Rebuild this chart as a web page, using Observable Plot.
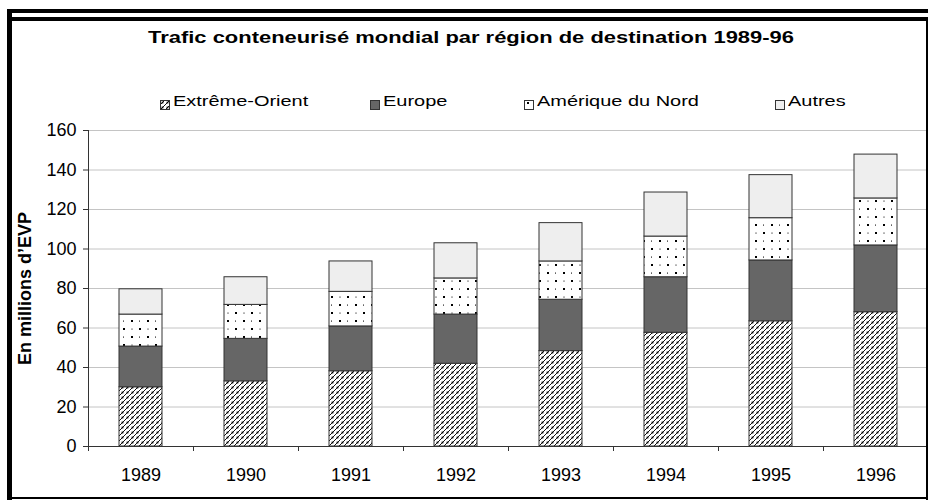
<!DOCTYPE html>
<html><head><meta charset="utf-8">
<script src="https://cdn.jsdelivr.net/npm/d3@7"></script>
<script src="https://cdn.jsdelivr.net/npm/@observablehq/plot@0.6"></script>
<style>
body{margin:0;background:#fff;}
#wrap{position:relative;width:928px;height:500px;overflow:hidden;background:#fff;font-family:"Liberation Sans",Arial,sans-serif;color:#000;}
.ln{position:absolute;background:#000;z-index:5;}
#title{position:absolute;top:29px;left:471px;white-space:nowrap;font-weight:bold;font-size:17px;line-height:17px;transform:translateX(-50%) scaleX(1.29);}
.sw{position:absolute;top:96px;width:10px;height:10px;}
.lt{position:absolute;top:93px;white-space:nowrap;font-size:15px;line-height:15px;transform-origin:0 0;transform:scaleX(1.33);}
#plot{position:absolute;left:0;top:110px;}
</style></head>
<body>
<svg width="0" height="0" style="position:absolute">
<defs>
<pattern id="hatch" width="5" height="5" patternUnits="userSpaceOnUse">
 <rect width="5" height="5" fill="#fff"/>
 <path d="M-1,1 L1,-1 M0,5 L5,0 M4,6 L6,4" stroke="#111" stroke-width="1"/>
 <rect x="1.6" y="1.6" width="1.8" height="1.8" fill="#000"/>
</pattern>
<pattern id="dots" width="16" height="16" patternUnits="userSpaceOnUse">
 <rect width="16" height="16" fill="#fff"/>
 <rect x="3" y="2" width="2" height="2" fill="#000"/>
 <rect x="11" y="2.5" width="1" height="1.2" fill="#222"/>
 <rect x="11" y="10" width="2" height="2" fill="#000"/>
 <rect x="3.5" y="10.5" width="1" height="1.2" fill="#222"/>
</pattern>
</defs></svg>
<div id="wrap">
 <div class="ln" style="left:7px;top:9px;width:921px;height:4px"></div>
 <div class="ln" style="left:12px;top:17px;width:916px;height:4px"></div>
 <div class="ln" style="left:7px;top:9px;width:5px;height:491px"></div>
 <div class="ln" style="left:926px;top:17px;width:2px;height:483px"></div>
 <div class="ln" style="left:7px;top:497px;width:921px;height:2px"></div>
 <div id="title"></div>
 <div id="legend"></div>
 <div id="plot"></div>
</div>
<script>
const titleText = "Trafic conteneurisé mondial par région de destination 1989-96";
const yLabel = "En millions d’EVP";
const years = ["1989", "1990", "1991", "1992", "1993", "1994", "1995", "1996"];
const regions = ["Extrême-Orient", "Europe", "Amérique du Nord", "Autres"];
const extremeOrient = [30.0, 33.0, 38.1, 41.9, 48.3, 57.6, 63.4, 68.0];
const europe = [20.6, 21.5, 22.7, 24.9, 26.0, 28.1, 30.8, 33.8];
const ameriqueNord = [16.2, 17.2, 17.5, 18.3, 19.4, 20.6, 21.4, 23.8];
const autres = [12.8, 14.0, 15.4, 17.8, 19.4, 22.3, 21.8, 22.2];
const yTicks = [0, 20, 40, 60, 80, 100, 120, 140, 160];
const fills = ["url(#hatch)", "#666666", "url(#dots)", "#eeeeee"];
const legendX = [160, 370, 524, 775];

const series = [extremeOrient, europe, ameriqueNord, autres];
const table = years.flatMap((year, i) => regions.map((region, j) => ({year, region, value: series[j][i]})));

document.getElementById("title").textContent = titleText;
const lg = document.getElementById("legend");
regions.forEach((r, i) => {
  const sw = document.createElement("div");
  sw.className = "sw";
  sw.style.left = legendX[i] + "px";
  sw.innerHTML = `<svg width="10" height="10"><rect x="0.5" y="0.5" width="9" height="9" fill="${fills[i]}" stroke="#333"/></svg>`;
  lg.appendChild(sw);
  const t = document.createElement("div");
  t.className = "lt";
  t.style.left = (legendX[i] + 13) + "px";
  t.textContent = r;
  lg.appendChild(t);
});

const chart = Plot.plot({
  width: 928, height: 390,
  marginLeft: 88, marginRight: 0, marginTop: 20, marginBottom: 54,
  style: {fontFamily: '"Liberation Sans", Arial, sans-serif', fontSize: "18px", color: "#000", background: "transparent", overflow: "visible"},
  x: {domain: years, paddingInner: 0.59, paddingOuter: 0.295, label: null},
  y: {domain: [0, 160], label: null},
  color: {domain: regions, range: fills},
  marks: [
    Plot.gridY(yTicks, {stroke: "#c4c4c4", strokeOpacity: 1}),
    Plot.barY(table, {x: "year", y: "value", fill: "region", stroke: "#333", strokeWidth: 1}),
    Plot.ruleY([0], {stroke: "#333"}),
    Plot.axisY(yTicks, {tickSize: 5, tickPadding: 7, label: null, stroke: "#333"}),
    Plot.axisX({tickSize: 0, tickPadding: 22, label: null}),
    Plot.text([yLabel], {frameAnchor: "left", textAnchor: "middle", dx: -63, rotate: -90, fontWeight: "bold", fontSize: 18, fill: "#000"})
  ]
});
document.getElementById("plot").appendChild(chart);

// y axis line and category-boundary ticks from the plot's scales
const xs = chart.scale("x"), ys = chart.scale("y");
const step = xs.step ?? (xs.range[1] - xs.range[0]) / years.length;
const bw = xs.bandwidth;
const y0 = ys.apply(0), yTop = ys.apply(160);
const g = d3.select(chart).append("g").attr("stroke", "#333").attr("stroke-width", 1);
g.append("line").attr("x1", xs.range[0] + 0.5).attr("x2", xs.range[0] + 0.5).attr("y1", yTop).attr("y2", y0);
const bounds = years.map(y => xs.apply(y) - (step - bw) / 2);
bounds.push(xs.apply(years[years.length - 1]) + bw + (step - bw) / 2);
bounds.forEach(b => g.append("line").attr("x1", Math.round(b) + 0.5).attr("x2", Math.round(b) + 0.5).attr("y1", y0).attr("y2", y0 + 5));
</script>
</body></html>
